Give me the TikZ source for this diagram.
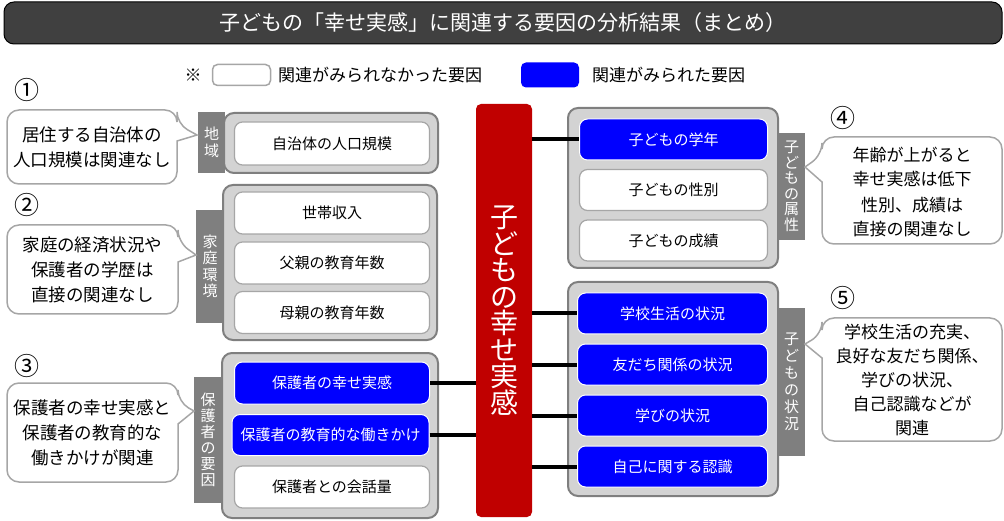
\documentclass[tikz,border=0pt]{standalone}
\usepackage{fontspec}
\setmainfont{Noto Sans CJK JP}
\definecolor{titlebg}{HTML}{404040}
\definecolor{grpfill}{HTML}{D3D3D3}
\definecolor{grpline}{HTML}{7F7F7F}
\definecolor{lightline}{HTML}{A6A6A6}
\definecolor{lblfill}{HTML}{7F7F7F}
\definecolor{barred}{HTML}{C00000}
\definecolor{factblue}{HTML}{0000FF}
\begin{document}
\begin{tikzpicture}[x=1pt,y=-1pt,
  grp/.style={draw=grpline,fill=grpfill,line width=2pt,rounded corners=10pt,inner sep=0pt},
  wbox/.style={draw=lightline,fill=white,line width=1.2pt,rounded corners=8pt,inner sep=0pt,font=\fontsize{15}{18}\selectfont},
  bbox/.style={draw=white,fill=factblue,line width=1pt,rounded corners=8pt,inner sep=0pt,text=white,font=\fontsize{15}{18}\selectfont},
  lbl/.style={fill=lblfill,inner sep=0pt,text=white,align=center,font=\fontsize{15}{16.5}\selectfont},
  bub/.style={draw=lightline,fill=white,line width=1.5pt},
  bubtxt/.style={align=center,inner sep=0pt,font=\fontsize{17.5}{25}\selectfont},
  num/.style={inner sep=0pt,font=\fontsize{25}{26}\selectfont},
  conn/.style={line width=4pt,black}]
\useasboundingbox (0,0) rectangle (1004,521);
% title
\node[draw=black,fill=titlebg,rounded corners=10pt,minimum width=998,minimum height=42,inner sep=0pt,text=white,font=\fontsize{21}{24}\selectfont,line width=1pt] (title) at (503,23) {子どもの「幸せ実感」に関連する要因の分析結果（まとめ）};
% legend
\node[inner sep=0pt,font=\fontsize{17}{18}\selectfont] (note) at (193,75) {※};
\node[draw=lightline,fill=white,line width=1.5pt,rounded corners=5pt,minimum width=58,minimum height=21,inner sep=0pt] (legw) at (241.5,75) {};
\node[anchor=west,inner sep=0pt,font=\fontsize{17}{18}\selectfont] (legt1) at (278,75) {関連がみられなかった要因};
\node[fill=factblue,rounded corners=5pt,minimum width=58,minimum height=25,inner sep=0pt] (legb) at (550,75) {};
\node[anchor=west,inner sep=0pt,font=\fontsize{17}{18}\selectfont] (legt2) at (592,75) {関連がみられた要因};
% numbers
\node[num] (n1) at (27,90) {①};
\node[num] (n2) at (27,205) {②};
\node[num] (n3) at (27,366) {③};
\node[num] (n4) at (843,118) {④};
\node[num] (n5) at (843,298) {⑤};
% central bar
\node[fill=barred,rounded corners=5pt,minimum width=56,minimum height=413,inner sep=0pt,text=white,align=center,font=\fontsize{28}{26.5}\selectfont] (red) at (504,310.5) {子\\ど\\も\\の\\幸\\せ\\実\\感};
% group 1
\node[grp,minimum width=214,minimum height=60] (g1) at (331,143) {};
\node[wbox,minimum width=195,minimum height=43] (a1) at (332,143.5) {自治体の人口規模};
\node[lbl,minimum width=27,minimum height=61] (l1) at (211.5,142.5) {地\\域};
% group 2
\node[grp,minimum width=214,minimum height=155] (g2) at (330,262.5) {};
\node[wbox,minimum width=195,minimum height=42] (a2) at (332,213) {世帯収入};
\node[wbox,minimum width=195,minimum height=42] (a3) at (332,263) {父親の教育年数};
\node[wbox,minimum width=195,minimum height=42] (a4) at (332,312.5) {母親の教育年数};
\node[lbl,minimum width=28,minimum height=113] (l2) at (210,266.5) {家\\庭\\環\\境};
% group 3
\node[grp,minimum width=216,minimum height=165] (g3) at (330,435.5) {};
\node[bbox,minimum width=195,minimum height=42] (p1) at (332,383) {保護者の幸せ実感};
\node[bbox,minimum width=197,minimum height=41] (p2) at (330.5,435) {保護者の教育的な働きかけ};
\node[wbox,minimum width=195,minimum height=42] (p3) at (332,487) {保護者との会話量};
\node[lbl,minimum width=28,minimum height=126,font=\fontsize{15}{16}\selectfont] (l3) at (208,440) {保\\護\\者\\の\\要\\因};
% group 4
\node[grp,minimum width=210,minimum height=160] (g4) at (673,188) {};
\node[bbox,minimum width=188,minimum height=41] (c1) at (673.5,139.5) {子どもの学年};
\node[wbox,minimum width=188,minimum height=41] (c2) at (673.5,190) {子どもの性別};
\node[wbox,minimum width=188,minimum height=41] (c3) at (673.5,240.5) {子どもの成績};
\node[lbl,minimum width=27,minimum height=107,font=\fontsize{15}{15.5}\selectfont] (l4) at (791.5,186.5) {子\\ど\\も\\の\\属\\性};
% group 5
\node[grp,minimum width=210,minimum height=214] (g5) at (673,389) {};
\node[bbox,minimum width=190,minimum height=41] (c4) at (672.5,313.5) {学校生活の状況};
\node[bbox,minimum width=190,minimum height=41] (c5) at (672.5,364.5) {友だち関係の状況};
\node[bbox,minimum width=190,minimum height=41] (c6) at (672.5,415.5) {学びの状況};
\node[bbox,minimum width=190,minimum height=41] (c7) at (672.5,466.5) {自己に関する認識};
\node[lbl,minimum width=27,minimum height=148,font=\fontsize{15}{17}\selectfont] (l5) at (791.5,382) {子\\ど\\も\\の\\状\\況};
% connectors
\draw[conn] (p1.east) -- (p1.east -| red.west);
\draw[conn] (p2.east) -- (p2.east -| red.west);
\draw[conn] (red.east |- c1.west) -- (c1.west);
\draw[conn] (red.east |- c4.west) -- (c4.west);
\draw[conn] (red.east |- c5.west) -- (c5.west);
\draw[conn] (red.east |- c6.west) -- (c6.west);
\draw[conn] (red.east |- c7.west) -- (c7.west);
% bubbles
\draw[bub] (7,147) [rounded corners=12pt] -- (7,110) -- (177,110) -- (177,124) [sharp corners] -- (197,135) -- (177,141) [rounded corners=12pt] -- (177,184) -- (7,184) -- cycle;
\node[bubtxt] (b1) at (92,147) {居住する自治体の\\人口規模は関連なし};
\draw[bub] (7,270) [rounded corners=12pt] -- (7,225) -- (178,225) -- (178,242) [sharp corners] -- (196,255) -- (178,262) [rounded corners=12pt] -- (178,314) -- (7,314) -- cycle;
\node[bubtxt] (b2) at (92.5,269.5) {家庭の経済状況や\\保護者の学歴は\\直接の関連なし};
\draw[bub] (7,432) [rounded corners=12pt] -- (7,383) -- (178,383) -- (178,402) [sharp corners] -- (194,411) -- (178,424) [rounded corners=12pt] -- (178,482) -- (7,482) -- cycle;
\node[bubtxt] (b3) at (92.5,433) {保護者の幸せ実感と\\保護者の教育的な\\働きかけが関連};
\draw[bub] (1002,190) [rounded corners=12pt] -- (1002,137) -- (822,137) -- (822,155) [sharp corners] -- (805,167) -- (822,182) [rounded corners=12pt] -- (822,244) -- (1002,244) -- cycle;
\node[bubtxt,font=\fontsize{17}{24}\selectfont] (b4a) at (912,167) {年齢が上がると\\幸せ実感は低下};
\node[bubtxt,font=\fontsize{17}{24}\selectfont] (b4b) at (912,217) {性別、成績は\\直接の関連なし};
\draw[bub] (1002,380) [rounded corners=12pt] -- (1002,318) -- (822,318) -- (822,334) [sharp corners] -- (805,344) -- (822,358) [rounded corners=12pt] -- (822,441) -- (1002,441) -- cycle;
\node[bubtxt,font=\fontsize{17}{24}\selectfont] (b5) at (912,380) {学校生活の充実、\\良好な友だち関係、\\学びの状況、\\自己認識などが\\関連};
\end{tikzpicture}
\end{document}
